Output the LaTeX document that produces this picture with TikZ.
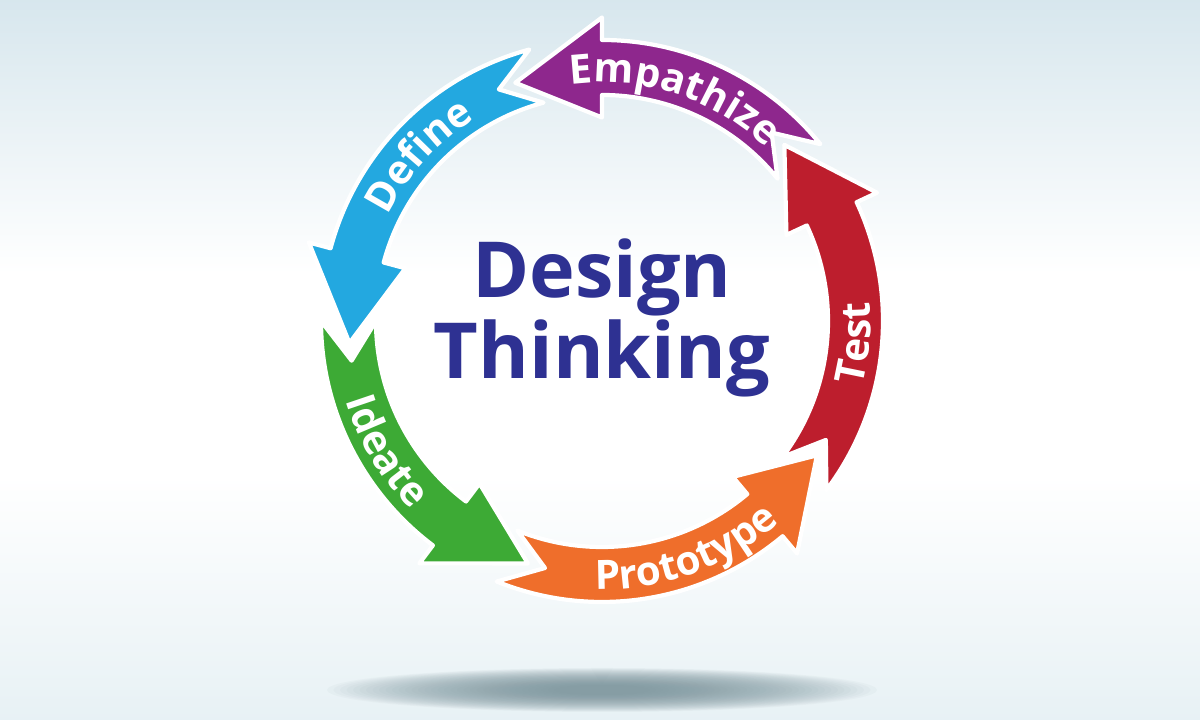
\documentclass[tikz,border=0pt]{standalone}
\usepackage{fontspec}
\setsansfont{Open Sans}
\usepackage{xcolor}
\usepackage{tikz}
\usetikzlibrary{decorations.text}

\definecolor{empathize}{HTML}{8E278D}
\definecolor{define}{HTML}{23A8E0}
\definecolor{ideate}{HTML}{3DAA35}
\definecolor{prototype}{HTML}{EF6E2B}
\definecolor{test}{HTML}{BD1E2D}
\definecolor{navy}{HTML}{2E3192}
\definecolor{bgtop}{HTML}{B2D0DD}
\definecolor{bgbottom}{HTML}{CFE3EA}
\definecolor{shadowgray}{HTML}{769098}

\pgfdeclareverticalshading{backdrop}{100bp}{color(0bp)=(bgbottom); color(18bp)=(bgbottom!70!white); color(42bp)=(white); color(56bp)=(white); color(78bp)=(bgtop!60!white); color(100bp)=(bgtop)}

\newcommand{\stagefont}{\sffamily\bfseries\fontsize{11.5}{12}\selectfont\color{white}}

\begin{document}
\begin{tikzpicture}[
        stagearrow/.style={draw=white, line width=1.2pt, line join=round},
        stagelabel/.style={decorate, decoration={text along path, text align=center, text={|\stagefont|#1}}},
        title/.style={font=\sffamily\bfseries\fontsize{22}{21}\selectfont, text=navy, align=center}
    ]

    % Background
    \useasboundingbox (-6.02,-3.99) rectangle (5.98,3.21);
    \shade[shading=backdrop] (-6.02,-3.99) rectangle (5.98,3.21);
    \foreach \i in {0,...,35}
        \fill[shadowgray, opacity=0.045] (0,-3.69) ellipse [x radius={2.75-\i*0.065}, y radius={0.22-\i*0.005}];

    % Arrows
    \foreach \tail/\base/\tip/\col in {39/90/110/empathize, 105/165/185/define, 180/233/253/ideate, 248/310/328/prototype, 323/385/404/test}{
        \pgfmathsetmacro{\notch}{\tail+9}
        \filldraw[stagearrow, fill=\col] (\tail:2.81) arc[start angle=\tail, end angle=\base, radius=2.81]
            -- (\base:3.035) -- (\tip:2.535) -- (\base:2.035) -- (\base:2.26)
            arc[start angle=\base, end angle=\tail, radius=2.26] -- (\notch:2.535) -- cycle;
    }

    % Labels
    \path[stagelabel=Empathize] (102:2.385) arc[start angle=102, end angle=42, radius=2.385];
    \path[stagelabel=Define] (168:2.385) arc[start angle=168, end angle=108, radius=2.385];
    \path[stagelabel=Ideate] (181:2.685) arc[start angle=181, end angle=241, radius=2.685];
    \path[stagelabel=Prototype] (260:2.685) arc[start angle=260, end angle=320, radius=2.685];
    \path[stagelabel=Test] (325:2.685) arc[start angle=325, end angle=385, radius=2.685];

    \node[title] (title) at (0,0.03) {Design\\Thinking};

\end{tikzpicture}
\end{document}
